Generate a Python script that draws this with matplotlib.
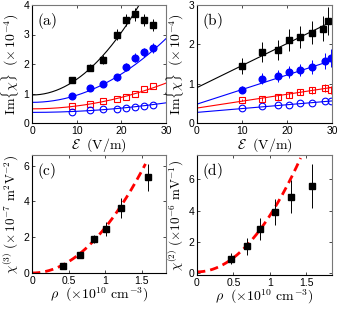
import numpy as np
import matplotlib
matplotlib.use("Agg")
import matplotlib.pyplot as plt

plt.rcParams['mathtext.fontset'] = 'cm'
plt.rcParams['font.family'] = ['Liberation Sans', 'DejaVu Sans']

# panel (a): Im{chi} vs field, four series
a_x = [9, 13, 16, 19, 21, 23, 25, 27]
a_black = [1.45, 1.87, 2.15, 3.0, 3.48, 3.68, 3.5, 3.33]
a_black_err = [0.1, 0.12, 0.15, 0.18, 0.2, 0.22, 0.2, 0.2]
a_blue = [0.9, 1.18, 1.32, 1.55, 1.9, 2.22, 2.4, 2.55]
a_blue_err = [0.06, 0.08, 0.1, 0.12, 0.14, 0.16, 0.15, 0.17]
a_red = [0.57, 0.65, 0.73, 0.8, 0.87, 0.97, 1.15, 1.27]
a_circ = [0.38, 0.43, 0.46, 0.49, 0.52, 0.55, 0.59, 0.61]
# quadratic fits  y = c0 + c2 x^2
a_fit = {'k': (0.95, 0.0053), 'b': (0.7, 0.0024), 'r': (0.48, 0.00097), 'c': (0.36, 0.00036)}

# panel (b)
b_x = [10, 14.5, 18, 20.5, 23, 25.5, 28, 29.2]
b_black = [1.45, 1.8, 1.85, 2.1, 2.18, 2.3, 2.4, 2.6]
b_black_err = [0.2, 0.25, 0.25, 0.28, 0.28, 0.3, 0.32, 0.35]
b_xb = [10, 14.5, 18, 20.5, 23, 25.5, 28.5, 29.8]
b_blue = [0.85, 1.12, 1.2, 1.3, 1.35, 1.42, 1.57, 1.65]
b_blue_err = [0.08, 0.14, 0.15, 0.15, 0.16, 0.18, 0.2, 0.22]
b_red = [0.58, 0.62, 0.66, 0.72, 0.78, 0.83, 0.88, 0.85]
b_red_err = [0.03, 0.05, 0.07, 0.08, 0.08, 0.09, 0.1, 0.1]
b_circ = [0.37, 0.42, 0.45, 0.46, 0.5, 0.5, 0.57, 0.55]
# linear fits  y = c0 + c1 x
b_fit = {'k': (0.9, 0.056), 'b': (0.48, 0.037), 'r': (0.38, 0.0175), 'c': (0.27, 0.0097)}

# panel (c)
c_x = [0.43, 0.66, 0.84, 1.01, 1.21, 1.58]
c_y = [0.4, 1.0, 1.9, 2.45, 3.65, 5.35]
c_err = [0.1, 0.12, 0.2, 0.4, 0.55, 0.75]
c_fit = (0.0, 2.54)

# panel (d)
d_x = [0.47, 0.68, 0.86, 1.07, 1.29, 1.58]
d_y = [0.95, 1.72, 2.85, 3.92, 4.9, 5.6]
d_err = [0.35, 0.55, 0.7, 0.85, 1.05, 1.4]
d_fit = (0.1, 3.6)

fig = plt.figure(figsize=(3.38, 3.09), dpi=100)
W, H = 338, 309
def axbox(l, t, r, b):
    return fig.add_axes([l / W, 1 - b / H, (r - l) / W, (b - t) / H])

axa = axbox(32, 5, 166, 123)
axb = axbox(197, 5, 332, 123)
axc = axbox(32, 155, 166, 273)
axd = axbox(197, 155, 332, 275)

blue = '#0000ff'
red = '#ff0000'
ms = 4.8
ekw = dict(elinewidth=0.7, capsize=0, linestyle='none')

def style(ax, lab):
    ax.tick_params(direction='in', top=True, right=True, labelsize=7.5, length=2.5, width=0.5, pad=2)
    for s in ['top', 'right']:
        ax.spines[s].set_color('#777777')
    for s in ax.spines.values():
        s.set_linewidth(0.8)
    ax.text(0.04, 0.95, r'$\mathrm{' + lab + '}$', transform=ax.transAxes, ha='left', va='top', fontsize=11)

# (a)
xx = np.linspace(0, 30, 200)
for key, col in [('k', 'k'), ('b', blue), ('r', red), ('c', blue)]:
    c0, c2 = a_fit[key]
    axa.plot(xx, c0 + c2 * xx ** 2, color=col, lw=0.8)
axa.errorbar(a_x, a_black, yerr=a_black_err, marker='s', color='k', ms=ms, **ekw)
axa.errorbar(a_x, a_blue, yerr=a_blue_err, marker='o', color=blue, ms=ms, **ekw)
axa.plot(a_x, a_red, 's', mfc='none', mec=red, ms=ms, mew=0.8)
axa.plot(a_x, a_circ, 'o', mfc='none', mec=blue, ms=ms, mew=0.8)
axa.set_xlim(0, 30)
axa.set_ylim(0, 4)
axa.set_xticks([0, 10, 20, 30])
axa.set_yticks([0, 1, 2, 3, 4])
axa.set_xlabel(r'$\mathcal{E}\ \ (\mathrm{V/m})$', fontsize=10, labelpad=0)
axa.set_ylabel(r'$\mathrm{Im}\{\chi\}\ \ (\times\,10^{-4})$', fontsize=10, labelpad=2)
style(axa, '(a)')

# (b)
for key, col in [('k', 'k'), ('b', blue), ('r', red), ('c', blue)]:
    c0, c1 = b_fit[key]
    axb.plot(xx, c0 + c1 * xx, color=col, lw=0.8)
axb.errorbar(b_x, b_black, yerr=b_black_err, marker='s', color='k', ms=ms, **ekw)
axb.errorbar(b_xb, b_blue, yerr=b_blue_err, marker='o', color=blue, ms=ms, **ekw)
axb.errorbar(b_xb, b_red, yerr=b_red_err, marker='s', mfc='none', mec=red, ecolor=red, ms=ms, mew=0.8, **ekw)
axb.plot(b_xb, b_circ, 'o', mfc='none', mec=blue, ms=ms, mew=0.8)
axb.set_xlim(0, 30)
axb.set_ylim(0, 3)
axb.set_xticks([0, 10, 20, 30])
axb.set_yticks([0, 1, 2, 3])
axb.set_xlabel(r'$\mathcal{E}\ \ (\mathrm{V/m})$', fontsize=10, labelpad=0)
axb.set_ylabel(r'$\mathrm{Im}\{\chi\}\ \ (\times\,10^{-4})$', fontsize=10, labelpad=2)
style(axb, '(b)')

# (c)
rr = np.linspace(0, 1.55, 200)
axc.plot(rr, c_fit[0] + c_fit[1] * rr ** 2, '--', color=red, lw=2, dashes=(3, 1.8))
axc.errorbar(c_x, c_y, yerr=c_err, marker='s', color='k', ms=ms, **ekw)
axc.set_xlim(0, 1.83)
axc.set_ylim(0, 6.6)
axc.set_xticks([0, 0.5, 1, 1.5])
axc.set_xticklabels(['0', '0.5', '1', '1.5'])
axc.set_yticks([0, 2, 4, 6])
axc.set_xlabel(r'$\rho\ \ (\times 10^{10}\ \mathrm{cm}^{-3})$', fontsize=10, labelpad=0)
axc.set_ylabel(r'$\chi^{(3)}\ (\times\,10^{-7}\ \mathrm{m}^2\mathrm{V}^{-2})$', fontsize=9.5, labelpad=2)
style(axc, '(c)')

# (d)
rr = np.linspace(0, 1.42, 200)
axd.plot(rr, d_fit[0] + d_fit[1] * rr ** 2, '--', color=red, lw=2, dashes=(3, 1.8))
axd.errorbar(d_x, d_y, yerr=d_err, marker='s', color='k', ms=ms, **ekw)
axd.set_xlim(0, 1.85)
axd.set_ylim(-0.1, 7.55)
axd.set_xticks([0, 0.5, 1, 1.5])
axd.set_xticklabels(['0', '0.5', '1', '1.5'])
axd.set_yticks([0, 2, 4, 6])
axd.set_xlabel(r'$\rho\ \ (\times 10^{10}\ \mathrm{cm}^{-3})$', fontsize=10, labelpad=0)
axd.set_ylabel(r'$\chi^{(2)}\ (\times 10^{-6}\ \mathrm{mV}^{-1})$', fontsize=9.5, labelpad=2)
style(axd, '(d)')

fig.savefig('out.png', dpi=100)
